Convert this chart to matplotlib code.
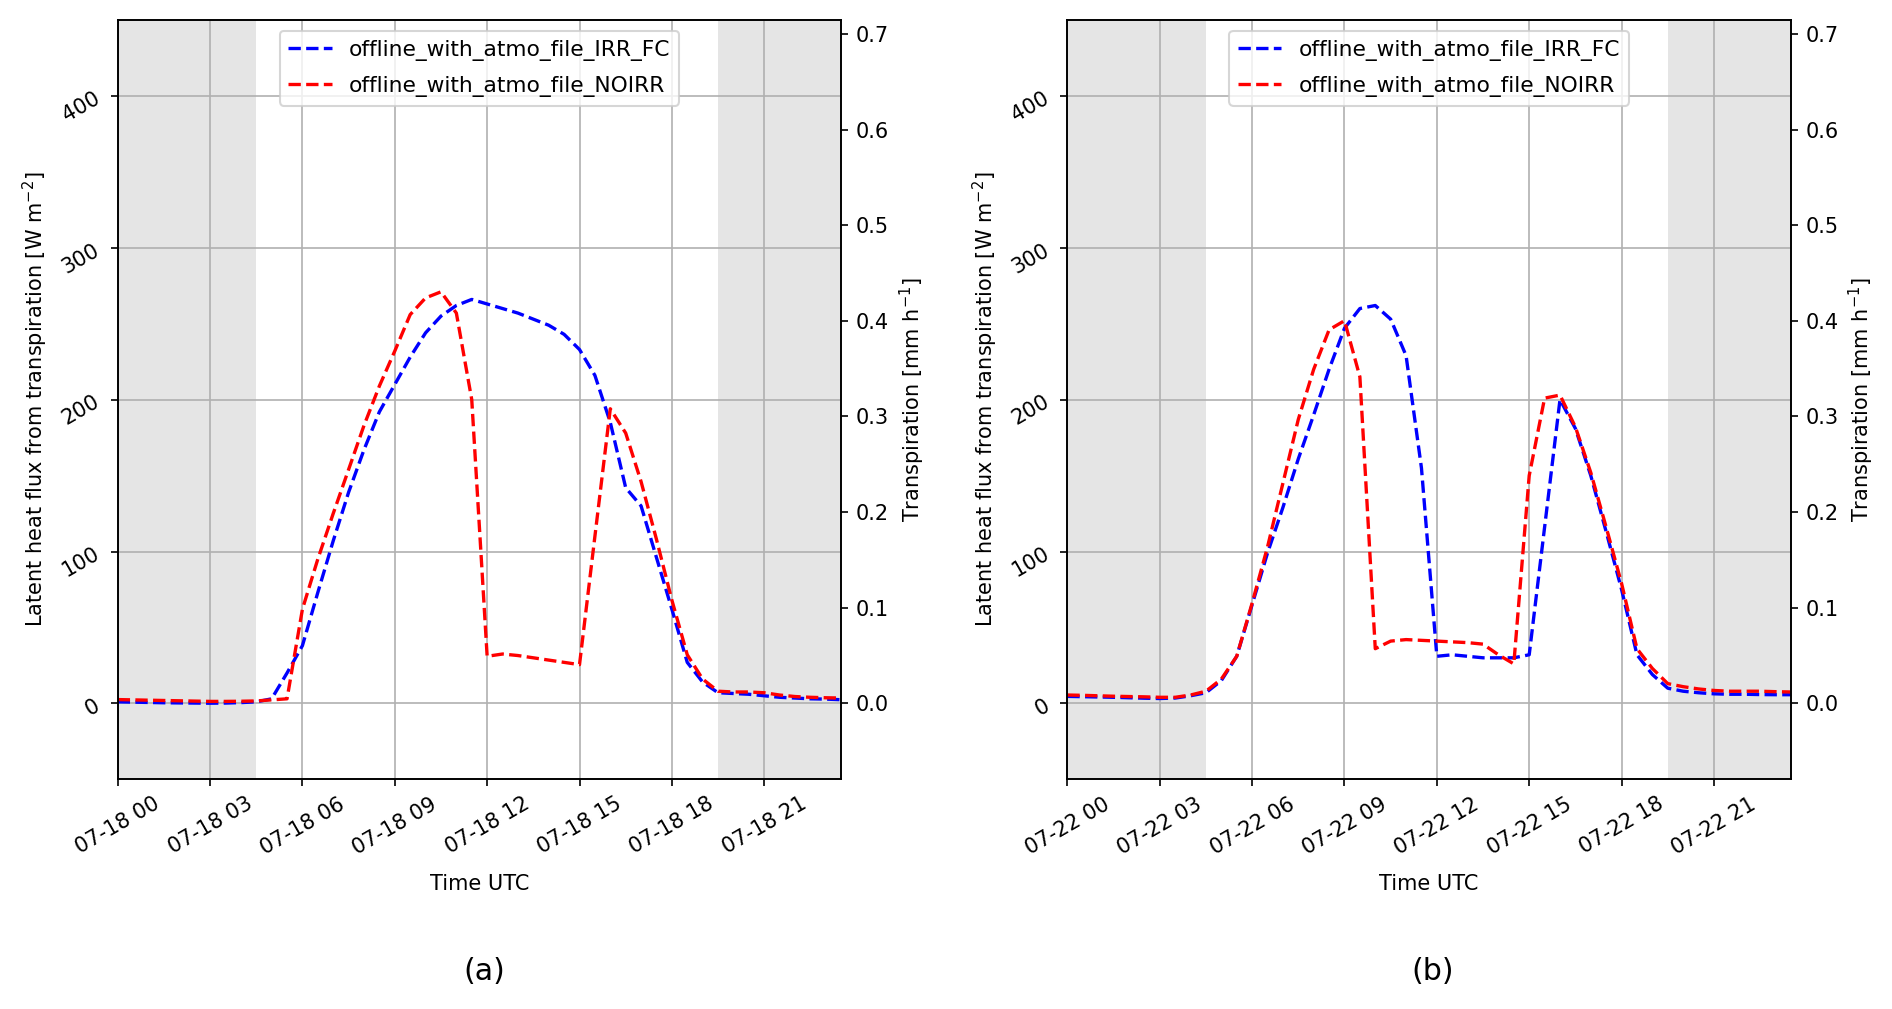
import numpy as np
import pandas as pd
import matplotlib
matplotlib.use("Agg")
import matplotlib.pyplot as plt
import matplotlib.dates as mdates

# ---------------- data (half-hourly, 00:00 - 23:30 UTC) ----------------
series_names = ["offline_with_atmo_file_IRR_FC", "offline_with_atmo_file_NOIRR"]
series_colors = ["blue", "red"]
panel_labels = ["(a)", "(b)"]
panel_days = ["2019-07-18", "2019-07-22"]

# panel (a) 07-18
a_irr = [1.0, 0.8, 0.6, 0.4, 0.3, 0.2, 0.1, 0.2, 0.5, 1.0,
         3, 20, 38, 73, 107, 139, 167, 192, 210, 228,
         244, 255, 262, 266, 263, 260, 257, 253, 249, 243,
         233, 216, 185, 142, 130, 96, 62, 27, 14, 7,
         6.5, 6, 5, 4, 3.5, 3, 2.8, 2.4]
a_noirr = [2.5, 2.3, 2.1, 1.9, 1.7, 1.5, 1.3, 1.3, 1.4, 1.6,
           2.3, 3, 62, 95, 125, 154, 183, 209, 232, 256,
           267, 271, 257, 200, 31, 32.5, 31.5, 30, 28.5, 27,
           25.5, 110, 194, 178, 146, 108, 68, 32, 16, 8,
           7.5, 7.5, 7, 5.5, 4.5, 4, 3.7, 3.5]

# panel (b) 07-22
b_irr = [4.6, 4.4, 4.2, 4.0, 3.7, 3.4, 3.2, 3.5, 5, 7,
         15, 31, 65, 99, 129, 161, 190, 220, 247, 260,
         262, 253, 229, 155, 31, 32, 31, 30, 30, 30,
         32, 116, 200, 181, 150, 113, 75, 32, 19, 10,
         8, 7, 6.3, 6, 6, 5.8, 5.7, 5.7]
b_noirr = [5.5, 5.3, 5.0, 4.7, 4.5, 4.3, 4.0, 4.0, 5.5, 8,
           16, 31, 66, 103, 145, 187, 220, 246, 252, 215,
           36, 41, 42, 41.5, 41, 40.5, 40, 39, 32, 26,
           150, 201, 203, 182, 152, 116, 79, 36, 23, 13,
           11, 9.5, 8.5, 8, 8, 8, 7.7, 7.5]

panel_values = [[a_irr, a_noirr], [b_irr, b_noirr]]

night_hours = [(0.0, 4.5), (19.5, 23.5)]
y_ticks = [0, 100, 200, 300, 400]
y_lim = (-50, 450)
right_ticks = [0.0, 0.1, 0.2, 0.3, 0.4, 0.5, 0.6, 0.7]
w_to_mmh = 3600.0 / 2.267e6   # W m-2 -> mm h-1

# ---------------- figure ----------------
plt.rcParams['font.family'] = ['DejaVu Sans']
plt.rcParams['font.size'] = 10
fig = plt.figure(figsize=(1892 / 150, 1009 / 150), dpi=150)

lefts = [117.7 / 1892, 1067.4 / 1892]
width = 723.5 / 1892
bottom = 1 - 779.3 / 1009
height = (779.3 - 20) / 1009
label_x = [484.3 / 1892, 1432.6 / 1892]

for i in range(2):
    ax = fig.add_axes([lefts[i], bottom, width, height])
    day = pd.Timestamp(panel_days[i])
    times = pd.date_range(day, periods=48, freq="30min")
    for (h0, h1) in night_hours:
        ax.axvspan(day + pd.Timedelta(hours=h0), day + pd.Timedelta(hours=h1),
                   color="grey", alpha=0.2, lw=0)
    for name, col, vals in zip(series_names, series_colors, panel_values[i]):
        ax.plot(times, vals, "--", color=col, lw=1.6, label=name)
    ax.set_xlim(day, day + pd.Timedelta(hours=23.5))
    ax.set_ylim(*y_lim)
    ax.set_yticks(y_ticks)
    ax.xaxis.set_major_locator(mdates.HourLocator(byhour=range(0, 24, 3)))
    ax.xaxis.set_major_formatter(mdates.DateFormatter("%m-%d %H"))
    ax.tick_params(axis="x", labelrotation=30)
    ax.tick_params(axis="y", labelrotation=30)
    for lab in ax.get_xticklabels():
        lab.set_ha("center")
    ax.grid(True)
    ax.set_xlabel("Time UTC", labelpad=7.5)
    ax.set_ylabel("Latent heat flux from transpiration [W m$^{-2}$]")
    ax.legend(loc="upper center", fontsize=10.45, labelspacing=0.7)

    ax2 = ax.twinx()
    ax2.set_ylim(y_lim[0] * w_to_mmh, y_lim[1] * w_to_mmh)
    ax2.set_yticks(right_ticks)
    ax2.set_ylabel("Transpiration [mm h$^{-1}$]")

    fig.text(label_x[i], 1 - 971.7 / 1009, panel_labels[i], ha="center",
             va="center", fontsize=14.4)

fig.savefig("out.png", dpi=150)
